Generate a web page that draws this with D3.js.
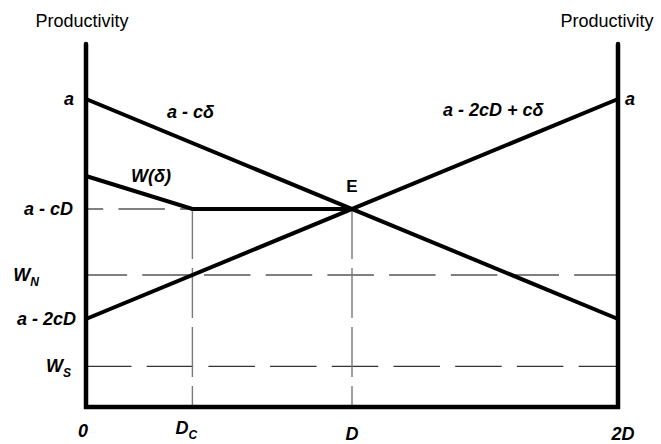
<!DOCTYPE html>
<html lang="en">
<head>
<meta charset="utf-8">
<title>Productivity diagram</title>
<script src="https://d3js.org/d3.v7.min.js"></script>
<style>
	body{ margin: 0; background: #fff; }
	svg{ display: block; }
	text{ font-family: "Liberation Sans", Arial, sans-serif; fill: #000; }
	.lab{ font-weight: bold; font-style: italic; font-size: 18px; }
</style>
</head>
<body>
<div id="chart"></div>
<script>

	/** Data (D = 1, cD = 1, a = 3) */

	var xTickValues = [0, 0.4, 1, 2];
	var xTickLabels = ["0", "D", "D", "2D"];
	var xTickSubs = ["", "C", "", ""];

	var yTickValues = [3, 2, 1.4, 1, 0.57];
	var yTickLabels = ["a", "a - cD", "W", "a - 2cD", "W"];
	var yTickSubs = ["", "", "N", "", "S"];

	var deltaEnds = [0, 2];
	var fallingValues = [3, 1];     // a - c*delta
	var risingValues = [1, 3];      // a - 2cD + c*delta
	var wageDelta = [0, 0.4, 1];
	var wageValues = [2.3, 2, 2];   // W(delta)

	var xDomain = [0, 2];
	var yDomain = [0.2, 3.5];

	/** Canvas and scales */

	var width = 661, height = 444;
	var svg = d3.select("#chart").append("svg")
		.attr("width", width)
		.attr("height", height);

	var x = d3.scaleLinear().domain(xDomain).range([86, 618]);
	var y = d3.scaleLinear().domain(yDomain).range([407, 44]);

	var line = d3.line()
		.x(function(d){ return x(d[0]); })
		.y(function(d){ return y(d[1]); });

	/** Dashed guide lines */

	// a - cD runs from the axis to D_C, W_N and W_S run the full width
	var guides = [
		{ v: yTickValues[1], x1: 0, x2: wageDelta[1], off: 29.3 },
		{ v: yTickValues[2], x1: 0, x2: 2, off: 5.4 },
		{ v: yTickValues[4], x1: 0, x2: 2, off: 1 }
	];
	svg.selectAll("line.hguide")
		.data(guides)
		.enter()
		.append("line")
		.attr("class", "hguide")
		.attr("x1", function(d){ return x(d.x1); })
		.attr("x2", function(d){ return x(d.x2); })
		.attr("y1", function(d){ return y(d.v); })
		.attr("y2", function(d){ return y(d.v); })
		.attr("stroke", "#000")
		.attr("stroke-width", 1)
		.attr("stroke-dasharray", "46.5,15.2")
		.attr("stroke-dashoffset", function(d){ return d.off; });

	// vertical drops from D_C and D
	svg.selectAll("line.vguide")
		.data([wageDelta[1], wageDelta[2]])
		.enter()
		.append("line")
		.attr("class", "vguide")
		.attr("x1", function(d){ return x(d); })
		.attr("x2", function(d){ return x(d); })
		.attr("y1", y(wageValues[1]))
		.attr("y2", y(yDomain[0]))
		.attr("stroke", "#7a7a7a")
		.attr("stroke-width", 1.4)
		.attr("stroke-dasharray", "50,9");

	/** Thick curves */

	var curves = [
		d3.zip(deltaEnds, fallingValues),
		d3.zip(deltaEnds, risingValues),
		d3.zip(wageDelta, wageValues)
	];
	svg.selectAll("path.curve")
		.data(curves)
		.enter()
		.append("path")
		.attr("class", "curve")
		.attr("d", line)
		.attr("fill", "none")
		.attr("stroke", "#000")
		.attr("stroke-width", 4);

	/** Axes: two vertical productivity axes joined by the distance axis */

	var frame = [[xDomain[0], yDomain[1]], [xDomain[0], yDomain[0]], [xDomain[1], yDomain[0]], [xDomain[1], yDomain[1]]];
	svg.append("path")
		.attr("d", line(frame))
		.attr("fill", "none")
		.attr("stroke", "#000")
		.attr("stroke-width", 4.5)
		.attr("stroke-linecap", "round")
		.attr("stroke-linejoin", "miter");

	svg.append("text")
		.attr("x", 82).attr("y", 27)
		.attr("text-anchor", "middle")
		.style("font-size", "18px")
		.text("Productivity");
	svg.append("text")
		.attr("x", 607).attr("y", 27)
		.attr("text-anchor", "middle")
		.style("font-size", "18px")
		.text("Productivity");

	/** Tick labels */

	function addLabel(g, main, sub){
		g.append("tspan").text(main);
		if (sub){
			g.append("tspan")
				.attr("dy", 5)
				.style("font-size", "12px")
				.text(sub);
		}
	}

	var yLabelRight = [74, 73, 39, 76, 71];
	yTickValues.forEach(function(v, i){
		var t = svg.append("text")
			.attr("class", "lab")
			.attr("x", yLabelRight[i])
			.attr("y", y(v) + 6)
			.attr("text-anchor", "end");
		addLabel(t, yTickLabels[i], yTickSubs[i]);
	});

	// right-hand "a"
	svg.append("text")
		.attr("class", "lab")
		.attr("x", 625)
		.attr("y", y(yTickValues[0]) + 6)
		.text(yTickLabels[0]);

	var xLabelDx = [-3, -6, 0, 5];
	var xLabelY = [437, 434, 440, 440];
	xTickValues.forEach(function(v, i){
		var t = svg.append("text")
			.attr("class", "lab")
			.attr("x", x(v) + xLabelDx[i])
			.attr("y", xLabelY[i])
			.attr("text-anchor", "middle");
		addLabel(t, xTickLabels[i], xTickSubs[i]);
	});

	/** Curve labels */

	svg.append("text").attr("class", "lab")
		.attr("x", 167).attr("y", 118)
		.text("a - c\u03b4");
	svg.append("text").attr("class", "lab")
		.attr("x", 443).attr("y", 116)
		.text("a - 2cD + c\u03b4");
	svg.append("text").attr("class", "lab")
		.attr("x", 131).attr("y", 182)
		.text("W(\u03b4)");
	svg.append("text")
		.attr("x", x(1)).attr("y", 192)
		.attr("text-anchor", "middle")
		.style("font-weight", "bold")
		.style("font-size", "17px")
		.text("E");

</script>
</body>
</html>
